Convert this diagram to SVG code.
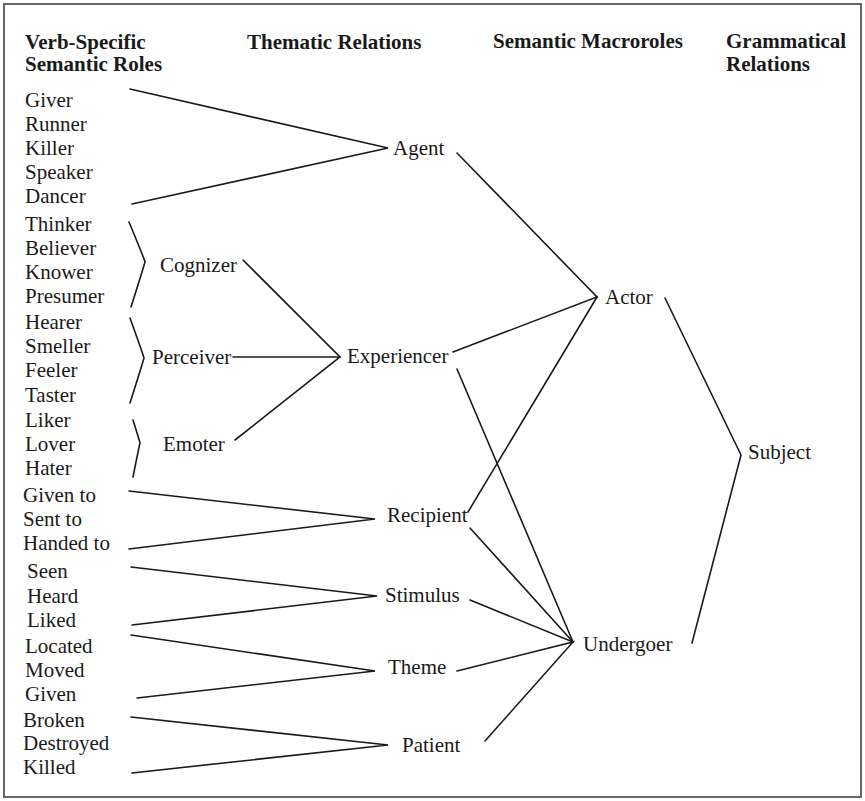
<svg xmlns="http://www.w3.org/2000/svg" width="865" height="801" viewBox="0 0 865 801">
<style>
text{font-family:'Liberation Serif','DejaVu Serif',serif;font-size:21px;fill:#1a1a1a}
.h{font-weight:bold}
.c{fill:none;stroke:#1a1a1a;stroke-width:1.6;stroke-linecap:round;stroke-linejoin:miter}
</style>
<rect x="4" y="4" width="857" height="793" fill="#fff" stroke="#666" stroke-width="2"/>
<g id="headers" font-family="Liberation Serif">
<text class="h" x="25" y="49">Verb-Specific</text>
<text class="h" x="25" y="71">Semantic Roles</text>
<text class="h" x="247" y="49">Thematic Relations</text>
<text class="h" x="493" y="48">Semantic Macroroles</text>
<text class="h" x="726" y="48">Grammatical</text>
<text class="h" x="726" y="71">Relations</text>
</g>
<g id="connectors">
<path class="c" d="M130 89 L388 148 L132 204"/>
<path class="c" d="M129 222 Q144 258 145 262 Q144 266 131 307"/>
<path class="c" d="M130 318 Q143 354 144 358 Q143 362 130 403"/>
<path class="c" d="M133 420 Q139 439 140 443 Q139 447 133 477"/>
<path class="c" d="M243 260 L340 357 L235 440"/>
<path class="c" d="M233 357 L340 357"/>
<path class="c" d="M129 491 L375 519 L129 549"/>
<path class="c" d="M131 567 L377 596 L132 625"/>
<path class="c" d="M131 635 L375 671 L137 698"/>
<path class="c" d="M131 717 L388 745 L132 773"/>
<path class="c" d="M457 153 L597 297 L453 352"/>
<path class="c" d="M468 512 L597 297"/>
<path class="c" d="M457 369 L573 642"/>
<path class="c" d="M470 528 L573 642 L470 600"/>
<path class="c" d="M457 671 L573 642 L485 741"/>
<path class="c" d="M665 298 L741 455 L692 643"/>
</g>
<g id="verb-specific">
<g id="giver"><text x="25" y="107">Giver</text></g>
<g id="runner"><text x="25" y="131">Runner</text></g>
<g id="killer"><text x="25" y="155">Killer</text></g>
<g id="speaker"><text x="25" y="179">Speaker</text></g>
<g id="dancer"><text x="25" y="203">Dancer</text></g>
<g id="thinker"><text x="25" y="231">Thinker</text></g>
<g id="believer"><text x="25" y="255">Believer</text></g>
<g id="knower"><text x="25" y="279">Knower</text></g>
<g id="presumer"><text x="25" y="303">Presumer</text></g>
<g id="hearer"><text x="25" y="329">Hearer</text></g>
<g id="smeller"><text x="25" y="353">Smeller</text></g>
<g id="feeler"><text x="25" y="377">Feeler</text></g>
<g id="taster"><text x="25" y="402">Taster</text></g>
<g id="liker"><text x="25" y="427">Liker</text></g>
<g id="lover"><text x="25" y="451">Lover</text></g>
<g id="hater"><text x="25" y="475">Hater</text></g>
<g id="given-to"><text x="23" y="502">Given to</text></g>
<g id="sent-to"><text x="23" y="526">Sent to</text></g>
<g id="handed-to"><text x="23" y="550">Handed to</text></g>
<g id="seen"><text x="27" y="578">Seen</text></g>
<g id="heard"><text x="27" y="603">Heard</text></g>
<g id="liked"><text x="27" y="627">Liked</text></g>
<g id="located"><text x="25" y="653">Located</text></g>
<g id="moved"><text x="25" y="677">Moved</text></g>
<g id="given"><text x="25" y="701">Given</text></g>
<g id="broken"><text x="23" y="727">Broken</text></g>
<g id="destroyed"><text x="23" y="750">Destroyed</text></g>
<g id="killed"><text x="23" y="774">Killed</text></g>
</g>
<g id="cognizer"><text x="160" y="272">Cognizer</text></g>
<g id="perceiver"><text x="152" y="364">Perceiver</text></g>
<g id="emoter"><text x="163" y="451">Emoter</text></g>
<g id="agent"><text x="393" y="155">Agent</text></g>
<g id="experiencer"><text x="347" y="363">Experiencer</text></g>
<g id="recipient"><text x="387" y="522">Recipient</text></g>
<g id="stimulus"><text x="385" y="602">Stimulus</text></g>
<g id="theme"><text x="388" y="674">Theme</text></g>
<g id="patient"><text x="402" y="752">Patient</text></g>
<g id="actor"><text x="605" y="304">Actor</text></g>
<g id="undergoer"><text x="583" y="651">Undergoer</text></g>
<g id="subject"><text x="748" y="459">Subject</text></g>
</svg>
